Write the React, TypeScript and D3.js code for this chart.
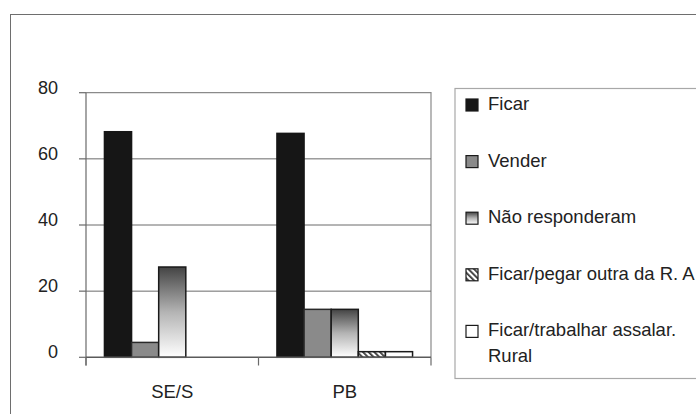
import React from "react";
import * as d3 from "d3";

// Categories, series and values (percent of respondents)
const categories = ["SE/S", "PB"];
const seriesNames = [
  "Ficar",
  "Vender",
  "Não responderam",
  "Ficar/pegar outra da R. A",
  "Ficar/trabalhar assalar.",
];
const legendExtraLine = ["", "", "", "", "Rural"];
const valuesSES = [68.2, 4.5, 27.3, 0, 0];
const valuesPB = [67.7, 14.5, 14.5, 1.7, 1.7];
const yTicks = [0, 20, 40, 60, 80];

const W = 696;
const H = 414;
const FONT = "'Liberation Sans', Arial, Helvetica, sans-serif";

const fills = ["#161616", "#8a8a8a", "url(#grad)", "url(#hatch)", "#ffffff"];
const strokes = ["#161616", "#2a2a2a", "#1a1a1a", "#1a1a1a", "#1a1a1a"];

export default function App() {
  const plot = { left: 86, right: 431, top: 92.7, bottom: 357.3 };
  const y = d3.scaleLinear().domain([0, 80]).range([plot.bottom, plot.top]);
  const x0 = d3
    .scaleBand<string>()
    .domain(categories)
    .range([plot.left, plot.right])
    .paddingInner(0)
    .paddingOuter(0);
  const x1 = d3
    .scaleBand<number>()
    .domain(d3.range(seriesNames.length))
    .range([0, x0.bandwidth()])
    .paddingInner(0)
    .paddingOuter(0.68);

  const data = [valuesSES, valuesPB];
  const legendX = 455;
  const legendRowY = (i: number) => 110 + i * 56.6;

  return (
    <svg
      width={W}
      height={H}
      style={{ position: "fixed", left: 0, top: 0, background: "#fff" }}
      fontFamily={FONT}
    >
      <defs>
        <linearGradient id="grad" x1="0" y1="0" x2="0" y2="1">
          <stop offset="0" stopColor="#444444" />
          <stop offset="0.5" stopColor="#b4b4b4" />
          <stop offset="1" stopColor="#ffffff" />
        </linearGradient>
        <pattern
          id="hatch"
          width="4"
          height="4"
          patternUnits="userSpaceOnUse"
          patternTransform="rotate(-45)"
        >
          <rect width="4" height="4" fill="#ffffff" />
          <rect width="1.8" height="4" fill="#3a3a3a" />
        </pattern>
      </defs>

      {/* outer frame */}
      <rect x={10.5} y={14.5} width={W} height={H} fill="none" stroke="#6e6e6e" strokeWidth={1} />

      {/* plot border (top and right) */}
      <path
        d={`M${plot.left},${plot.top}H${plot.right}V${plot.bottom}`}
        fill="none"
        stroke="#8a8a8a"
        strokeWidth={1.2}
      />

      {/* gridlines */}
      {yTicks
        .filter((t) => t > 0 && t < 80)
        .map((t) => (
          <line
            key={t}
            x1={plot.left}
            x2={plot.right}
            y1={y(t)}
            y2={y(t)}
            stroke="#6a6a6a"
            strokeWidth={1}
          />
        ))}

      {/* bars */}
      {categories.map((c, ci) => (
        <g key={c} transform={`translate(${x0(c)},0)`}>
          {data[ci].map((v, si) =>
            v > 0 ? (
              <rect
                key={si}
                x={x1(si)}
                y={y(v)}
                width={x1.bandwidth()}
                height={y(0) - y(v)}
                fill={fills[si]}
                stroke={strokes[si]}
                strokeWidth={1.5}
              />
            ) : null
          )}
        </g>
      ))}

      {/* y axis */}
      <line x1={plot.left} x2={plot.left} y1={plot.top} y2={365.5} stroke="#6a6a6a" strokeWidth={1.2} />
      {yTicks.map((t) => (
        <g key={t}>
          <line x1={79} x2={plot.left} y1={y(t)} y2={y(t)} stroke="#6a6a6a" strokeWidth={1.2} />
          <text
            x={58}
            y={y(t) + 1}
            textAnchor="end"
            fontSize={18}
            fill="#222"
          >
            {t}
          </text>
        </g>
      ))}

      {/* x axis */}
      <line x1={plot.left} x2={plot.right} y1={plot.bottom} y2={plot.bottom} stroke="#5a5a5a" strokeWidth={1.4} />
      {[...categories.map((c) => x0(c) as number), plot.right].map((px, i) => (
        <line key={i} x1={px} x2={px} y1={plot.bottom} y2={365.5} stroke="#6a6a6a" strokeWidth={1.2} />
      ))}
      {categories.map((c) => (
        <text
          key={c}
          x={(x0(c) as number) + x0.bandwidth() / 2}
          y={398}
          textAnchor="middle"
          fontSize={18.5}
          fill="#222"
        >
          {c}
        </text>
      ))}

      {/* legend */}
      <rect x={legendX} y={88.5} width={W} height={290} fill="#fff" stroke="#a8a8a8" strokeWidth={1.2} />
      {seriesNames.map((name, i) => (
        <g key={name}>
          <rect
            x={466}
            y={legendRowY(i) - 11}
            width={12}
            height={12}
            fill={fills[i]}
            stroke="#1a1a1a"
            strokeWidth={1.2}
          />
          <text x={488} y={legendRowY(i)} fontSize={18.5} fill="#222">
            {name}
          </text>
          {legendExtraLine[i] && (
            <text x={488} y={legendRowY(i) + 25.5} fontSize={18.5} fill="#222">
              {legendExtraLine[i]}
            </text>
          )}
        </g>
      ))}
    </svg>
  );
}
